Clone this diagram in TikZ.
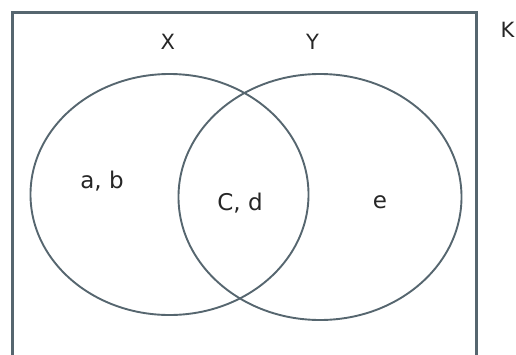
\documentclass[tikz,border=0pt]{standalone}
\usepackage{fontspec}
\setmainfont{DejaVu Sans}
\definecolor{linec}{HTML}{56666F}
\begin{document}
\begin{tikzpicture}[x=1pt,y=-1pt,
  setline/.style={draw=linec,line width=1.9pt},
  boxline/.style={draw=linec,line width=2.8pt},
  lbl/.style={font=\fontsize{23}{26}\selectfont,text=black!85,inner sep=0pt,anchor=base},
  setlbl/.style={font=\fontsize{21}{24}\selectfont,text=black!85,inner sep=0pt,anchor=base}]
\useasboundingbox (0,0) rectangle (516,354);
\clip (0,0) rectangle (516,354);
\draw[boxline] (12.7,12.7) rectangle (476.7,360);
\draw[setline] (169.5,194.5) ellipse [x radius=139, y radius=120.5];
\draw[setline] (320,197) ellipse [x radius=141.5, y radius=123];
\node[setlbl] (X) at (167.7,49) {X};
\node[setlbl] (Y) at (312.5,49.3) {Y};
\node[setlbl,anchor=base west] (K) at (500.5,37.5) {K};
\node[lbl] (ab) at (102,188.5) {a, b};
\node[lbl] (cd) at (240,210) {C, d};
\node[lbl] (e) at (380,208.5) {e};
\end{tikzpicture}
\end{document}
